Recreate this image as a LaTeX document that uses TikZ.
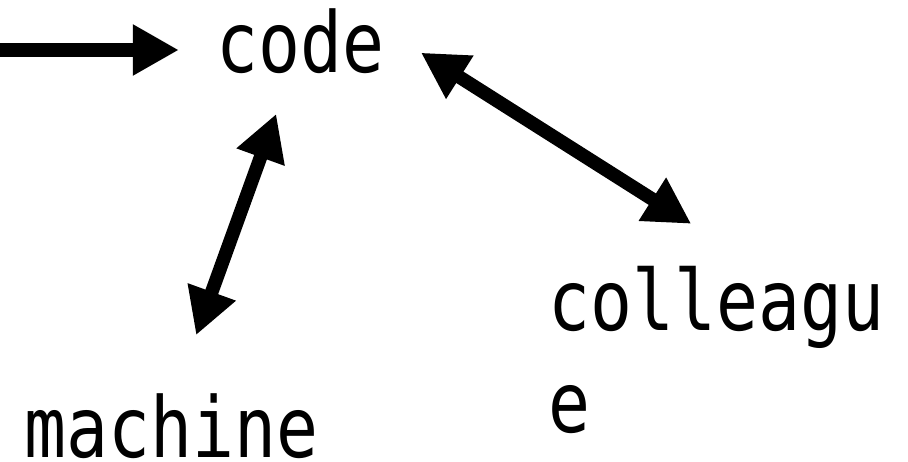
\documentclass[tikz,border=0pt]{standalone}
\usepackage{fontspec}
\newfontfamily\wordfont[FakeStretch=0.83]{DejaVu Sans Mono}
\usetikzlibrary{arrows.meta}

\begin{document}
\begin{tikzpicture}[x=1pt, y=1pt,
    word/.style={inner sep=0pt, font=\wordfont\fontsize{84}{102}\selectfont},
    fat/.style={line width=13.5pt},
    tip/.tip={Triangle[length=46pt,width=48pt]}]
    \useasboundingbox (0,0) rectangle (908,461);

    % Words
    \node[word, anchor=base] (code) at (300.5,388) {code};
    \node[word, anchor=base] (machine) at (171.5,4) {machine};
    \node[word, anchor=base west, align=left] (colleague) at (548,29) {colleagu\\e};

    % Incoming arrow
    \coordinate (in) at (0,411);
    \draw[fat, -tip, shorten >=37.5pt] (in) -- (in -| code.west);

    % Two-way arrows
    \draw[fat, tip-tip, shorten <=42pt, shorten >=61.5pt]
        ([xshift=-10pt]code.south) -- ([xshift=3.7pt]machine.north);
    \draw[fat, tip-tip, shorten <=43pt, shorten >=78pt]
        ([yshift=12pt]code.east) -- ([xshift=41pt]colleague.north);
\end{tikzpicture}
\end{document}
